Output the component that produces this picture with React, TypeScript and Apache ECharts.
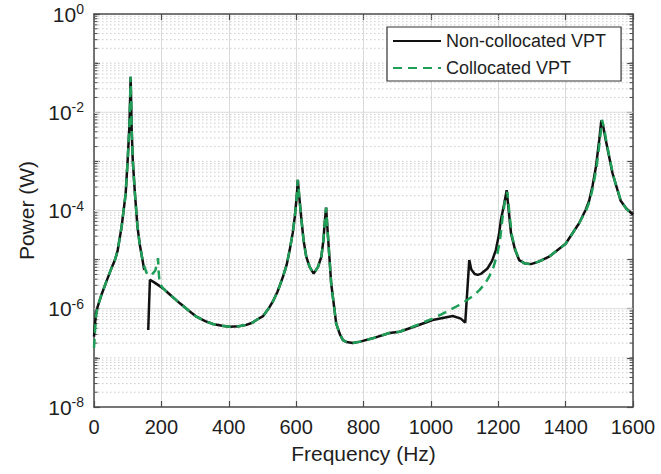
import React, { useEffect, useRef } from 'react';
import * as echarts from 'echarts';

// Frequency (Hz) / Power (W) pairs
const nonCollocated: [number, number | string][] = [
  [0, 2.7e-7], [3, 5.0e-7], [6, 7.9e-7], [10, 1.05e-6], [23, 2.0e-6], [40, 4.1e-6],
  [50, 6.2e-6], [62, 9.8e-6], [70, 1.5e-5], [82, 4.7e-5], [94, 2.2e-4], [100, 1.07e-3],
  [105, 5.1e-3], [107, 1.6e-2], [108.7, 5.3e-2], [110.3, 1.6e-2], [111.6, 5.1e-3],
  [115, 1.07e-3], [121.5, 2.2e-4], [129, 4.7e-5], [136, 2.0e-5], [144, 9.8e-6],
  [149, 6.2e-6], [155, '-'], [161, 3.7e-7], [166, 3.9e-6], [180, 3.4e-6], [205, 2.6e-6],
  [230, 1.82e-6], [255, 1.29e-6], [280, 9.3e-7], [304, 6.9e-7], [330, 5.6e-7],
  [353, 4.9e-7], [380, 4.5e-7], [403, 4.3e-7], [430, 4.4e-7], [452, 4.7e-7],
  [470, 5.2e-7], [482, 5.9e-7], [502, 7.1e-7], [520, 1.05e-6], [531, 1.41e-6],
  [545, 2.24e-6], [561, 4.5e-6], [572, 7.9e-6], [581, 1.58e-5], [590, 3.5e-5],
  [596, 7.4e-5], [602, 2.0e-4], [605, 4.2e-4], [609, 2.0e-4], [615, 7.4e-5],
  [622, 2.5e-5], [630, 1.15e-5], [640, 7.1e-6], [652, 5.2e-6], [665, 7.1e-6],
  [675, 1.15e-5], [681, 2.5e-5], [684, 4.7e-5], [689, 1.15e-4], [694, 3.4e-5],
  [704, 3.3e-6], [719, 5.0e-7], [730, 3.0e-7], [739, 2.3e-7], [750, 2.1e-7],
  [768, 2.0e-7], [790, 2.14e-7], [827, 2.5e-7], [877, 3.2e-7], [907, 3.4e-7],
  [950, 4.3e-7], [1005, 5.9e-7], [1065, 7.1e-7], [1089, 6.3e-7], [1102, 5.2e-7],
  [1114, 9.8e-6], [1120, 6.3e-6], [1130, 5.1e-6], [1139, 4.9e-6], [1150, 5.2e-6],
  [1168, 6.6e-6], [1182, 9.5e-6], [1193, 1.58e-5], [1202, 3.2e-5], [1208, 6.5e-5],
  [1218, 1.4e-4], [1225, 2.6e-4], [1231, 1.0e-4], [1238, 3.4e-5], [1250, 1.58e-5],
  [1262, 9.8e-6], [1280, 8.3e-6], [1297, 8.1e-6], [1320, 9.1e-6], [1351, 1.15e-5],
  [1400, 2.1e-5], [1440, 5.5e-5], [1460, 1.05e-4], [1470, 1.6e-4], [1480, 3.2e-4],
  [1490, 7.8e-4], [1500, 2.8e-3], [1506, 6.8e-3], [1512, 5.0e-3], [1519, 2.75e-3],
  [1539, 5.8e-4], [1563, 1.6e-4], [1580, 1.1e-4], [1600, 8.3e-5],
];

const collocated: [number, number][] = [
  [0, 1.6e-7], [3, 3.5e-7], [6, 7.0e-7], [10, 1.05e-6], [23, 2.0e-6], [40, 4.1e-6],
  [50, 6.2e-6], [62, 9.8e-6], [70, 1.5e-5], [82, 4.7e-5], [94, 2.2e-4], [100, 1.07e-3],
  [105, 5.1e-3], [107, 1.6e-2], [108.7, 5.3e-2], [110.3, 1.6e-2], [111.6, 5.1e-3],
  [115, 1.07e-3], [121.5, 2.2e-4], [129, 4.7e-5], [136, 2.0e-5], [144, 9.8e-6],
  [150, 7.0e-6], [158, 5.0e-6], [170, 4.8e-6], [182, 6.0e-6], [188, 8.9e-6],
  [190, 1.07e-5], [192, 5.6e-6], [195, 3.2e-6], [205, 2.6e-6],
  [230, 1.82e-6], [255, 1.29e-6], [280, 9.3e-7], [304, 6.9e-7], [330, 5.6e-7],
  [353, 4.9e-7], [380, 4.5e-7], [403, 4.3e-7], [430, 4.4e-7], [452, 4.7e-7],
  [470, 5.2e-7], [482, 5.9e-7], [502, 7.1e-7], [520, 1.05e-6], [531, 1.41e-6],
  [545, 2.24e-6], [561, 4.5e-6], [572, 7.9e-6], [581, 1.58e-5], [590, 3.5e-5],
  [596, 7.4e-5], [602, 2.0e-4], [605, 4.2e-4], [609, 2.0e-4], [615, 7.4e-5],
  [622, 2.5e-5], [630, 1.15e-5], [640, 7.1e-6], [652, 5.2e-6], [665, 7.1e-6],
  [675, 1.15e-5], [681, 2.5e-5], [684, 4.7e-5], [689, 1.15e-4], [694, 3.4e-5],
  [704, 3.3e-6], [719, 5.0e-7], [730, 3.0e-7], [739, 2.3e-7], [750, 2.1e-7],
  [768, 2.0e-7], [790, 2.14e-7], [827, 2.5e-7], [877, 3.2e-7], [907, 3.4e-7],
  [950, 4.4e-7], [1005, 6.3e-7], [1030, 7.6e-7], [1055, 9.3e-7], [1080, 1.15e-6],
  [1104, 1.45e-6], [1125, 1.82e-6], [1144, 2.4e-6], [1160, 3.2e-6], [1173, 4.5e-6],
  [1186, 7.1e-6], [1198, 1.35e-5], [1206, 2.8e-5], [1213, 7.4e-5], [1220, 1.6e-4],
  [1227, 2.4e-4], [1233, 8.9e-5], [1240, 3.2e-5], [1252, 1.5e-5], [1264, 9.5e-6],
  [1280, 8.3e-6], [1297, 8.1e-6], [1320, 9.1e-6], [1351, 1.15e-5], [1400, 2.1e-5],
  [1440, 5.5e-5], [1462, 1.05e-4], [1472, 1.6e-4], [1482, 3.2e-4], [1492, 7.8e-4],
  [1502, 2.8e-3], [1508, 7.0e-3], [1514, 4.8e-3], [1521, 2.5e-3], [1541, 5.2e-4],
  [1565, 1.5e-4], [1582, 1.05e-4], [1600, 8.3e-5],
];

const seriesNames = ['Non-collocated VPT', 'Collocated VPT'];
const xRange = [0, 1600];
const xStep = 200;
const yRange = [1e-8, 1];
const majorDecades = [-2, -4, -6]; // solid horizontal grid lines
const decadeExps = [-8, -7, -6, -5, -4, -3, -2, -1];

const FONT = '"Liberation Sans", Arial, Helvetica, sans-serif';

// grid-line helper values (1..9 x 10^n) — not chart data
const gridLineValues: [number, number, number][] = [];
decadeExps.forEach((e) => {
  for (let k = 1; k <= 9; k++) {
    if (k === 1 && e === -8) continue;
    const isMajor = k === 1 && majorDecades.indexOf(e) >= 0 ? 1 : 0;
    gridLineValues.push([0, k * Math.pow(10, e), isMajor]);
  }
});

export default function App() {
  const ref = useRef<HTMLDivElement>(null);
  useEffect(() => {
    if (!ref.current) return;
    const chart = echarts.init(ref.current, null, { renderer: 'svg' });
    const axisColor = '#4a4a4a';
    const textColor = '#1e1e1e';
    chart.setOption({
      animation: false,
      backgroundColor: '#ffffff',
      grid: { left: 94, right: 28, top: 14, bottom: 67, containLabel: false },
      legend: {
        data: seriesNames,
        orient: 'vertical',
        left: 387,
        top: 27,
        itemWidth: 48,
        itemHeight: 18,
        itemGap: 9,
        padding: [5, 15, 4, 5],
        backgroundColor: '#ffffff',
        borderColor: '#333333',
        borderWidth: 1.2,
        itemStyle: { opacity: 0, color: 'transparent', borderColor: 'transparent', borderWidth: 0 },
        textStyle: { fontFamily: FONT, fontSize: 18, color: textColor, lineHeight: 18 },
      },
      xAxis: [
        {
          type: 'value',
          min: xRange[0],
          max: xRange[1],
          interval: xStep,
          name: 'Frequency (Hz)',
          nameLocation: 'middle',
          nameGap: 36,
          nameTextStyle: { fontFamily: FONT, fontSize: 21, color: textColor },
          axisLine: { show: true, onZero: false, lineStyle: { color: axisColor, width: 1.5 } },
          axisTick: { show: true, inside: true, length: 6, lineStyle: { color: axisColor, width: 1.2 } },
          axisLabel: { fontFamily: FONT, fontSize: 20, color: textColor, margin: 10, formatter: (v: number) => String(v) },
          splitLine: { show: true, lineStyle: { color: '#dadada', width: 1 } },
        },
        {
          type: 'value',
          position: 'top',
          min: xRange[0],
          max: xRange[1],
          interval: xStep,
          axisLine: { show: true, onZero: false, lineStyle: { color: axisColor, width: 1.5 } },
          axisTick: { show: true, inside: true, length: 6, lineStyle: { color: axisColor, width: 1.2 } },
          axisLabel: { show: false },
          splitLine: { show: false },
        },
      ],
      yAxis: [
        {
          type: 'log',
          logBase: 10,
          min: yRange[0],
          max: yRange[1],
          name: 'Power (W)',
          nameLocation: 'middle',
          nameGap: 54,
          nameTextStyle: { fontFamily: FONT, fontSize: 21, color: textColor },
          axisLine: { show: true, onZero: false, lineStyle: { color: axisColor, width: 1.5 } },
          axisTick: { show: true, inside: true, length: 6, lineStyle: { color: axisColor, width: 1.2 } },
          axisLabel: {
            margin: 10,
            formatter: (v: number) => {
              const e = Math.round(Math.log10(v));
              if (e % 2 !== 0) return '';
              return `{b|10}{s|${e}}`;
            },
            rich: {
              b: { fontFamily: FONT, fontSize: 21, color: textColor, lineHeight: 24 },
              s: { fontFamily: FONT, fontSize: 14, color: textColor, lineHeight: 14, verticalAlign: 'top' },
            },
          },
          splitLine: { show: false },
        },
        {
          type: 'log',
          logBase: 10,
          position: 'right',
          min: yRange[0],
          max: yRange[1],
          axisLine: { show: true, onZero: false, lineStyle: { color: axisColor, width: 1.5 } },
          axisTick: { show: true, inside: true, length: 6, lineStyle: { color: axisColor, width: 1.2 } },
          axisLabel: { show: false },
          splitLine: { show: false },
        },
      ],
      series: [
        {
          type: 'custom',
          name: 'grid',
          xAxisIndex: 0,
          yAxisIndex: 0,
          z: 1,
          silent: true,
          data: gridLineValues,
          encode: { x: 0, y: 1 },
          renderItem: (params: any, api: any) => {
            const cs = params.coordSys;
            const y = api.coord([0, api.value(1)])[1];
            const major = api.value(2) === 1;
            const children: any[] = [
              {
                type: 'line',
                shape: { x1: cs.x, y1: y, x2: cs.x + cs.width, y2: y },
                style: major
                  ? { stroke: '#dadada', lineWidth: 1 }
                  : { stroke: '#cdcdcd', lineWidth: 1, lineDash: [1.5, 2.5] },
              },
            ];
            if (!major) {
              children.push(
                { type: 'line', shape: { x1: cs.x, y1: y, x2: cs.x + 3.5, y2: y }, style: { stroke: axisColor, lineWidth: 1 } },
                { type: 'line', shape: { x1: cs.x + cs.width - 3.5, y1: y, x2: cs.x + cs.width, y2: y }, style: { stroke: axisColor, lineWidth: 1 } },
              );
            }
            return { type: 'group', children };
          },
        },
        {
          type: 'line',
          name: seriesNames[0],
          data: nonCollocated,
          symbol: 'none',
          showSymbol: false,
          connectNulls: false,
          z: 3,
          itemStyle: { color: '#111111' },
          lineStyle: { color: '#111111', width: 2.5 },
        },
        {
          type: 'line',
          name: seriesNames[1],
          data: collocated,
          symbol: 'none',
          showSymbol: false,
          z: 4,
          itemStyle: { color: '#1f9e58' },
          lineStyle: { color: '#1f9e58', width: 2.5, type: [9, 6] },
        },
      ],
    });
    return () => chart.dispose();
  }, []);
  return (
    <div
      ref={ref}
      style={{ position: 'absolute', left: 0, top: 0, width: 661, height: 474 }}
    />
  );
}
